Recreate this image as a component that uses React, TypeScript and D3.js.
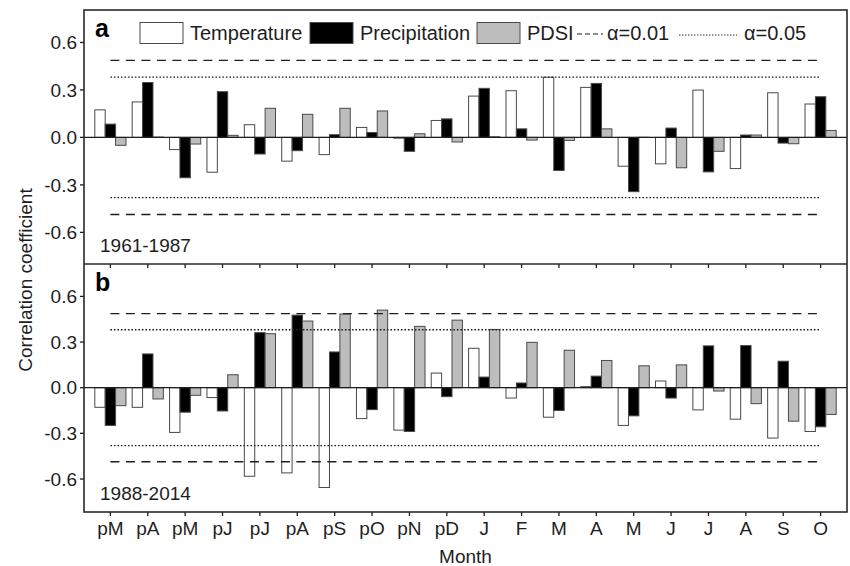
import React from "react";
import { scalePoint, scaleLinear } from "d3";

// month labels (p = previous year)
const months = ["pM", "pA", "pM", "pJ", "pJ", "pA", "pS", "pO", "pN", "pD", "J", "F", "M", "A", "M", "J", "J", "A", "S", "O"];

// 1961-1987
const tempA = [0.174, 0.224, -0.077, -0.22, 0.08, -0.15, -0.109, 0.063, -0.005, 0.107, 0.261, 0.295, 0.38, 0.316, -0.182, -0.167, 0.299, -0.197, 0.282, 0.211];
const precA = [0.084, 0.347, -0.255, 0.289, -0.105, -0.084, 0.017, 0.031, -0.088, 0.117, 0.31, 0.054, -0.209, 0.341, -0.343, 0.059, -0.218, 0.015, -0.036, 0.257];
const pdsiA = [-0.05, 0.002, -0.042, 0.013, 0.184, 0.146, 0.184, 0.167, 0.023, -0.029, 0.004, -0.017, -0.019, 0.054, 0.001, -0.192, -0.088, 0.015, -0.04, 0.044];

// 1988-2014
const tempB = [-0.129, -0.129, -0.294, -0.065, -0.582, -0.56, -0.656, -0.203, -0.279, 0.096, 0.259, -0.068, -0.194, 0.007, -0.248, 0.044, -0.146, -0.207, -0.331, -0.288];
const precB = [-0.248, 0.222, -0.161, -0.153, 0.362, 0.477, 0.235, -0.144, -0.288, -0.059, 0.07, 0.031, -0.15, 0.076, -0.185, -0.068, 0.275, 0.277, 0.174, -0.257];
const pdsiB = [-0.118, -0.074, -0.05, 0.085, 0.355, 0.438, 0.484, 0.51, 0.403, 0.444, 0.383, 0.298, 0.246, 0.179, 0.144, 0.15, -0.022, -0.105, -0.22, -0.176];

// significance levels
const alpha01 = 0.487;
const alpha05 = 0.381;

const yTicks = [-0.6, -0.3, 0, 0.3, 0.6];

const FONT = "'Liberation Sans', Arial, Helvetica, sans-serif";
const width = 850,
  height = 566;
const left = 84,
  right = 847,
  top = 10,
  mid = 264,
  bottom = 512;

const ink = "#1e1e1e";

const x = scalePoint<string>()
  .domain(months.map((_, i) => String(i)))
  .range([left, right])
  .padding(0.706);
const bw = x.step() * 0.278;

function Panel({ y0, y1, domain, letter, period, temp, prec, pdsi }) {
  const y = scaleLinear().domain(domain).range([y1, y0]);
  const series = [
    { values: temp, fill: "#ffffff" },
    { values: prec, fill: "#000000" },
    { values: pdsi, fill: "#bdbdbd" }
  ];
  const x0 = x("0");
  const xN = x(String(months.length - 1));

  return (
    <g>
      {series.map((s, k) =>
        s.values.map((v, i) => (
          <rect
            key={k + "-" + i}
            x={x(String(i)) + (k - 1.5) * bw}
            y={y(Math.max(0, v))}
            width={bw}
            height={Math.abs(y(v) - y(0))}
            fill={s.fill}
            stroke="#4a4a4a"
            strokeWidth={1}
          />
        ))
      )}
      <line x1={left} x2={right} y1={y(0)} y2={y(0)} stroke={ink} strokeWidth={1.3} />
      {[alpha01, -alpha01].map(v => (
        <line key={"d" + v} x1={x0} x2={xN} y1={y(v)} y2={y(v)} stroke={ink} strokeWidth={1.4} strokeDasharray="9,6.5" />
      ))}
      {[alpha05, -alpha05].map(v => (
        <line key={"o" + v} x1={x0} x2={xN} y1={y(v)} y2={y(v)} stroke={ink} strokeWidth={1.3} strokeDasharray="1.6,1.9" />
      ))}
      {yTicks.map(t => (
        <g key={t} transform={`translate(${left},${y(t)})`}>
          <line x1={-4} x2={0} stroke={ink} strokeWidth={1.3} />
          <text x={-7} dy="0.35em" textAnchor="end" fontSize={19} fill={ink} fontFamily={FONT}>
            {t.toFixed(1)}
          </text>
        </g>
      ))}
      {months.map((m, i) => (
        <line key={"xt" + i} x1={x(String(i))} x2={x(String(i))} y1={y1} y2={y1 + 4} stroke={ink} strokeWidth={1.3} />
      ))}
      <text x={95} y={y0 + 27} fontSize={25} fontWeight="bold" fill="#000" fontFamily={FONT}>
        {letter}
      </text>
      <text x={100} y={y1 - 12} fontSize={19} fill={ink} fontFamily={FONT}>
        {period}
      </text>
    </g>
  );
}

function Legend() {
  const cy = 33;
  const boxes = [
    { x: 140, fill: "#ffffff", label: "Temperature" },
    { x: 310, fill: "#000000", label: "Precipitation" },
    { x: 477, fill: "#bdbdbd", label: "PDSI" }
  ];
  return (
    <g fontFamily={FONT} fontSize={20} fill={ink}>
      {boxes.map(b => (
        <g key={b.label}>
          <rect x={b.x} y={cy - 10.5} width={43} height={21} fill={b.fill} stroke="#4a4a4a" strokeWidth={1} />
          <text x={b.x + 50} y={cy + 7}>{b.label}</text>
        </g>
      ))}
      <line x1={577} x2={603} y1={cy + 1} y2={cy + 1} stroke={ink} strokeWidth={1.2} strokeDasharray="5,3" />
      <text x={607} y={cy + 7}>α=0.01</text>
      <line x1={679} x2={737} y1={cy + 2} y2={cy + 2} stroke={ink} strokeWidth={1.1} strokeDasharray="1.4,1.6" />
      <text x={744} y={cy + 7}>α=0.05</text>
    </g>
  );
}

export default function App() {
  return (
    <svg
      width={width}
      height={height}
      style={{ position: "absolute", left: 0, top: 0, background: "#fff" }}
    >
      <rect width={width} height={height} fill="#fff" />
      <Panel y0={top} y1={mid} domain={[-0.8, 0.805]} letter="a" period="1961-1987" temp={tempA} prec={precA} pdsi={pdsiA} />
      <Panel y0={mid} y1={bottom} domain={[-0.817, 0.813]} letter="b" period="1988-2014" temp={tempB} prec={precB} pdsi={pdsiB} />
      <Legend />
      <rect x={left} y={top} width={right - left} height={bottom - top} fill="none" stroke="#2a2a2a" strokeWidth={1.6} />
      <line x1={left} x2={right} y1={mid} y2={mid} stroke="#2a2a2a" strokeWidth={1.6} />
      {months.map((m, i) => (
        <text key={"xl" + i} x={x(String(i))} y={535} textAnchor="middle" fontSize={19} fill={ink} fontFamily={FONT}>
          {m}
        </text>
      ))}
      <text x={(left + right) / 2} y={563} textAnchor="middle" fontSize={19} fill={ink} fontFamily={FONT}>
        Month
      </text>
      <text transform="translate(32,280) rotate(-90)" textAnchor="middle" fontSize={19} fill={ink} fontFamily={FONT}>
        Correlation coefficient
      </text>
    </svg>
  );
}
